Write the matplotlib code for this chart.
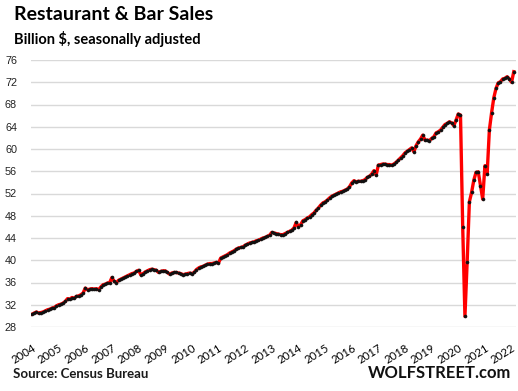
import matplotlib
matplotlib.use("Agg")
import matplotlib.pyplot as plt
import numpy as np

# monthly restaurant & bar sales, billion $, Jan 2004 - Feb 2022
sales_2004 = [30.3, 30.5, 30.7, 30.5, 30.6, 30.7, 30.9, 31.1, 31.2, 31.4, 31.5, 31.8]
sales_2005 = [32.0, 32.1, 32.3, 32.6, 33.1, 33.0, 33.3, 33.2, 33.5, 33.6, 33.8, 34.1]
sales_2006 = [35.0, 34.7, 34.8, 34.9, 34.8, 34.9, 34.7, 35.2, 35.6, 35.7, 35.9, 36.0]
sales_2007 = [36.9, 36.2, 36.0, 36.4, 36.6, 36.8, 37.0, 37.2, 37.4, 37.6, 37.7, 38.0]
sales_2008 = [38.2, 37.4, 37.6, 37.9, 38.1, 38.3, 38.4, 38.3, 38.2, 37.8, 38.0, 38.1]
sales_2009 = [38.1, 37.8, 37.5, 37.7, 37.8, 37.8, 37.7, 37.6, 37.4, 37.5, 37.6, 37.7]
sales_2010 = [37.6, 37.8, 38.3, 38.6, 38.8, 38.9, 39.1, 39.3, 39.4, 39.4, 39.5, 39.6]
sales_2011 = [39.5, 40.4, 40.6, 40.8, 41.0, 41.3, 41.5, 41.7, 42.0, 42.2, 42.3, 42.4]
sales_2012 = [42.7, 42.9, 43.1, 43.2, 43.3, 43.5, 43.6, 43.8, 44.0, 44.1, 44.3, 44.5]
sales_2013 = [45.0, 44.9, 44.8, 44.7, 44.6, 44.6, 44.8, 45.0, 45.2, 45.4, 45.8, 46.8]
sales_2014 = [46.0, 46.4, 47.1, 47.3, 47.6, 47.8, 48.2, 48.5, 49.0, 49.4, 49.9, 50.3]
sales_2015 = [50.5, 50.8, 51.2, 51.5, 51.7, 51.9, 52.1, 52.3, 52.4, 52.6, 52.8, 53.2]
sales_2016 = [53.9, 54.3, 54.1, 54.2, 54.2, 54.3, 54.5, 54.9, 55.1, 55.5, 56.1, 55.3]
sales_2017 = [57.1, 57.2, 57.3, 57.3, 57.2, 57.2, 57.1, 57.3, 57.6, 58.0, 58.4, 58.8]
sales_2018 = [59.3, 59.6, 59.9, 60.2, 59.5, 60.6, 61.3, 61.8, 62.5, 61.6, 61.6, 61.5]
sales_2019 = [61.9, 62.2, 62.9, 63.1, 63.4, 63.9, 64.4, 64.6, 64.9, 64.7, 64.2, 65.2]
sales_2020 = [66.3, 66.1, 45.9, 29.9, 39.7, 50.5, 52.2, 54.4, 55.8, 55.9, 53.4, 51.0]
sales_2021 = [57.0, 55.5, 63.4, 66.5, 69.2, 70.9, 71.9, 72.1, 72.6, 72.7, 73.0, 72.6]
sales_2022 = [72.0, 73.9]

years = list(range(2004, 2023))
y_ticks = list(range(28, 77, 4))

sales = (sales_2004 + sales_2005 + sales_2006 + sales_2007 + sales_2008
         + sales_2009 + sales_2010 + sales_2011 + sales_2012 + sales_2013
         + sales_2014 + sales_2015 + sales_2016 + sales_2017 + sales_2018
         + sales_2019 + sales_2020 + sales_2021 + sales_2022)
months = np.arange(len(sales))

fig = plt.figure(figsize=(5.18, 3.91), dpi=100)
ax = fig.add_axes([31 / 518, 64 / 391, 485 / 518, 267 / 391])

ax.plot(months, sales, color="#FF0000", linewidth=2.4, zorder=3,
        marker="o", markersize=2.2, markerfacecolor="#111111",
        markeredgecolor="#111111", markeredgewidth=0.4)

ax.set_ylim(28, 76)
ax.set_xlim(-0.45, 218)
ax.set_yticks(y_ticks)
ax.set_yticklabels([str(t) for t in y_ticks], fontsize=7.8,
                   family="Liberation Sans", color="#222222")
ax.set_xticks([12 * (y - 2004) for y in years])
ax.set_xticklabels([str(y) for y in years], rotation=32, ha="right",
                   rotation_mode="anchor", fontsize=8.2, family="Lato")
ax.tick_params(axis="both", length=0)
ax.tick_params(axis="y", pad=10)
ax.tick_params(axis="x", pad=11)
ax.grid(axis="y", color="#D9D9D9", linewidth=1.0)
ax.set_axisbelow(True)
for s in ax.spines.values():
    s.set_visible(False)

fig.text(14 / 518, 1 - 15 / 391, "Restaurant & Bar Sales", fontsize=14,
         fontweight="bold", family="Lato", va="center", ha="left")
fig.text(14 / 518, 1 - 39 / 391, "Billion $, seasonally adjusted", fontsize=10.5,
         fontweight="bold", family="Lato", va="center", ha="left")
fig.text(13 / 518, 1 - 374 / 391, "Source: Census Bureau", fontsize=9.5,
         fontweight="bold", family="Lato", va="center", ha="left", color="#1a1a1a")
fig.text(511 / 518, 1 - 373 / 391, "WOLFSTREET.com", fontsize=12,
         fontweight="bold", family="Lato", va="center", ha="right", color="#111111")

fig.savefig("out.png", dpi=100)
